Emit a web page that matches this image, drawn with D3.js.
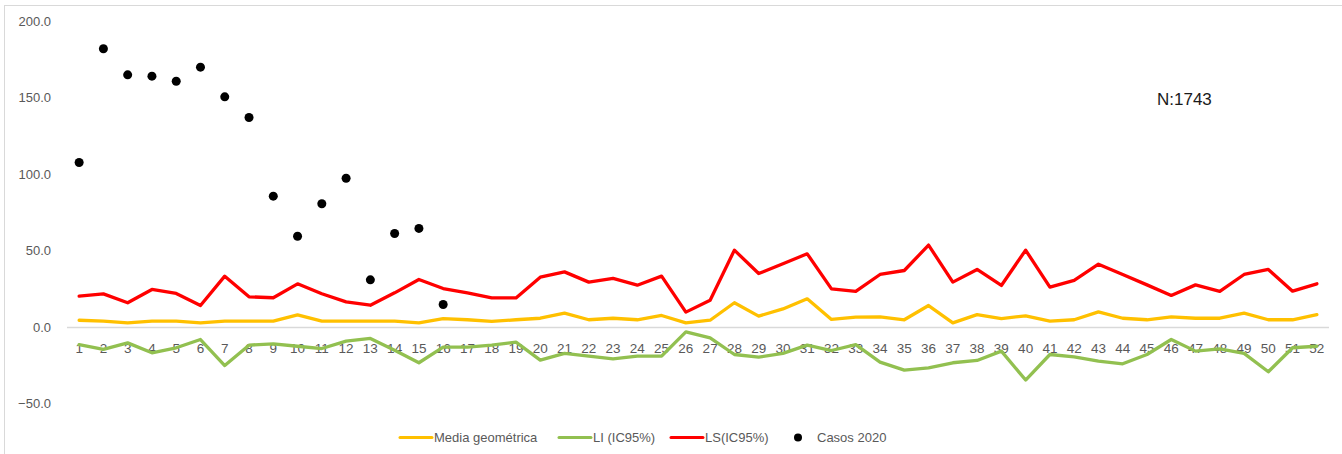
<!DOCTYPE html>
<html>
<head>
<meta charset="utf-8">
<script src="https://cdn.jsdelivr.net/npm/d3@7"></script>
<style>
  html, body { margin: 0; padding: 0; background: #fff; }
  svg { display: block; }
  text { font-family: "Liberation Sans", Arial, sans-serif; }
</style>
</head>
<body>
<svg id="chart" width="1342" height="454"></svg>
<script>
// ---- data ----
const weeks = d3.range(1, 53).map(String);
const mediaGeometrica = [4.1,3.5,2.4,3.5,3.5,2.4,3.5,3.5,3.5,7.6,3.5,3.5,3.5,3.5,2.4,5.2,4.4,3.3,4.4,5.4,8.7,4.4,5.4,4.4,7.2,2.4,4.1,15.5,6.8,11.5,18.1,4.6,6.1,6.3,4.4,13.7,2.4,7.8,5.2,7.0,3.5,4.4,9.6,5.4,4.4,6.3,5.4,5.4,8.7,4.4,4.4,7.8];
const liIC95 = [-11.8,-15.0,-10.7,-17.2,-13.9,-8.5,-25.5,-12.2,-11.3,-12.9,-14.4,-9.6,-7.8,-15.5,-23.7,-13.5,-13.5,-12.2,-10.2,-22.0,-17.6,-19.4,-21.1,-19.4,-19.4,-3.5,-7.4,-18.3,-20.0,-17.6,-12.2,-15.7,-11.8,-23.3,-28.5,-27.0,-23.7,-22.2,-16.1,-35.0,-18.3,-19.8,-22.7,-24.4,-18.3,-8.5,-16.1,-14.6,-17.6,-29.6,-13.9,-12.9];
const lsIC95 = [19.8,21.3,15.5,24.2,21.6,13.7,32.9,19.4,18.8,27.9,21.4,16.1,13.9,22.0,30.7,24.8,22.0,18.7,18.7,32.2,35.7,29.0,31.4,27.0,32.9,9.4,17.2,49.9,34.6,41.0,47.5,24.6,22.9,34.0,36.6,53.2,29.0,37.3,26.8,49.9,25.7,30.1,40.7,34.0,27.2,20.3,27.2,22.9,34.0,37.3,23.1,27.9];
const casos2020 = [107.2,181.5,164.5,163.6,160.3,169.5,150.1,136.6,85.2,59.0,80.2,96.9,30.5,60.8,64.1,14.4];
const yTicks = [-50, 0, 50, 100, 150, 200];
const legendLabels = ["Media geométrica", "LI (IC95%)", "LS(IC95%)", "Casos 2020"];
const nLabel = "N:1743";

// ---- layout ----
const svg = d3.select("#chart");
const plot = { left: 67, right: 1329, top: 20.5, bottom: 403 };

const x = d3.scaleBand().domain(weeks).range([plot.left, plot.right]);
const y = d3.scaleLinear().domain([-50, 200]).range([plot.bottom, plot.top]);
const cx = d => x(d) + x.bandwidth() / 2;

// chart border
svg.append("rect")
  .attr("x", 4.5).attr("y", 5.5)
  .attr("width", 1400).attr("height", 500)
  .attr("fill", "none").attr("stroke", "#d9d9d9").attr("stroke-width", 1);

// y axis labels
const yAxis = d3.axisLeft(y).tickValues(yTicks).tickFormat(d3.format(".1f")).tickSize(0).tickPadding(0);
const gy = svg.append("g").attr("transform", "translate(51,0)").call(yAxis);
gy.select(".domain").remove();
gy.selectAll("text")
  .attr("fill", "#595959").style("font-size", "13px")
  .style("font-family", "'Liberation Sans', Arial, sans-serif")
  .attr("dy", "0.36em");

// zero line (category axis)
svg.append("line")
  .attr("x1", plot.left).attr("x2", plot.right)
  .attr("y1", Math.round(y(0)) + 0.5).attr("y2", Math.round(y(0)) + 0.5)
  .attr("stroke", "#d9d9d9").attr("stroke-width", 1.5);

// x axis labels
const xAxis = d3.axisBottom(x).tickSize(0).tickPadding(0);
const gx = svg.append("g").attr("transform", `translate(0,${y(0) + 16})`).call(xAxis);
gx.select(".domain").remove();
gx.selectAll("text")
  .attr("fill", "#595959").style("font-size", "13.5px")
  .style("font-family", "'Liberation Sans', Arial, sans-serif")
  .attr("dy", "0.36em").attr("y", 6);

// lines
const line = d3.line().x((d, i) => cx(weeks[i])).y(d => y(d));
const series = [
  { data: mediaGeometrica, color: "#ffc000" },
  { data: liIC95, color: "#92c050" },
  { data: lsIC95, color: "#ff0000" }
];
series.forEach(s => {
  svg.append("path").datum(s.data)
    .attr("d", line)
    .attr("fill", "none").attr("stroke", s.color)
    .attr("stroke-width", 3.3).attr("stroke-linejoin", "round").attr("stroke-linecap", "round");
});

// dots
svg.append("g").selectAll("circle").data(casos2020).join("circle")
  .attr("cx", (d, i) => cx(weeks[i])).attr("cy", d => y(d))
  .attr("r", 4.5).attr("fill", "#000");

// N label
svg.append("text").attr("x", 1157).attr("y", 99).attr("dy", "0.36em")
  .attr("fill", "#1a1a1a").style("font-size", "17px").text(nLabel);

// legend
const ly = 437.5;
const legendItems = [
  { x: 400, label: legendLabels[0], color: "#ffc000", type: "line" },
  { x: 559, label: legendLabels[1], color: "#92c050", type: "line" },
  { x: 671, label: legendLabels[2], color: "#ff0000", type: "line" },
  { x: 793, label: legendLabels[3], color: "#000", type: "dot" }
];
const lg = svg.append("g");
legendItems.forEach(it => {
  if (it.type === "line") {
    lg.append("line").attr("x1", it.x).attr("x2", it.x + 32)
      .attr("y1", ly).attr("y2", ly)
      .attr("stroke", it.color).attr("stroke-width", 3).attr("stroke-linecap", "round");
    lg.append("text").attr("x", it.x + 34).attr("y", ly).attr("dy", "0.36em")
      .attr("fill", "#595959").style("font-size", "13px").text(it.label);
  } else {
    lg.append("circle").attr("cx", it.x + 5).attr("cy", ly).attr("r", 4).attr("fill", it.color);
    lg.append("text").attr("x", it.x + 24).attr("y", ly).attr("dy", "0.36em")
      .attr("fill", "#595959").style("font-size", "13px").text(it.label);
  }
});
</script>
</body>
</html>
